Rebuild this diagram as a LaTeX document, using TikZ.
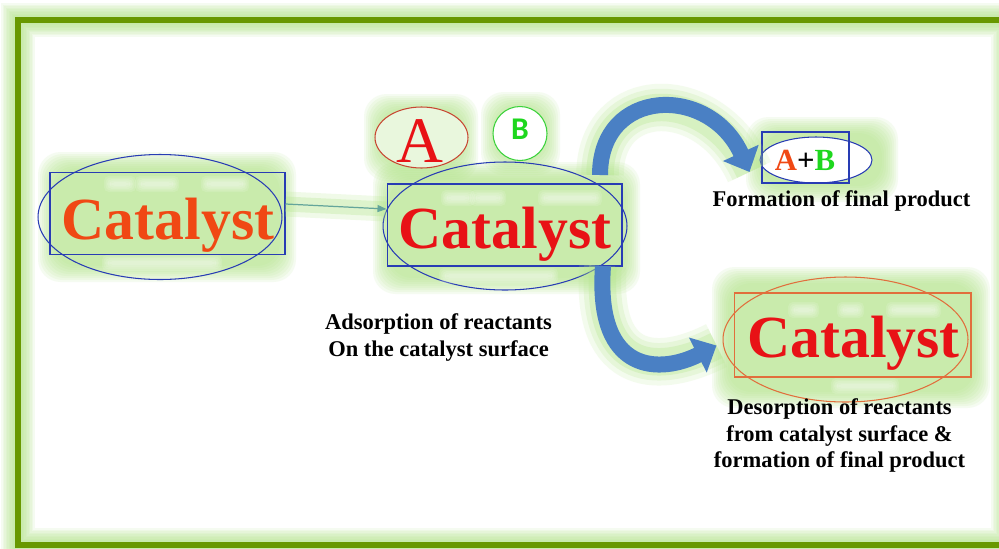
\documentclass[tikz,border=0pt]{standalone}
\usepackage{fontspec}
\setmainfont{Liberation Serif}
\newfontfamily\bsans{Carlito}
\usetikzlibrary{shapes.geometric, arrows.meta, positioning, calc}
\definecolor{glowgreen}{RGB}{180, 230, 140}
\definecolor{framegreen}{RGB}{104, 152, 0}
\definecolor{boxblue}{RGB}{40, 60, 180}
\definecolor{boxorange}{RGB}{225, 110, 60}
\definecolor{catorange}{RGB}{240, 72, 20}
\definecolor{catred}{RGB}{232, 18, 22}
\definecolor{ringred}{RGB}{200, 70, 50}
\definecolor{ringgreen}{RGB}{60, 210, 60}
\definecolor{atomgreen}{RGB}{30, 215, 30}
\definecolor{arrowblue}{RGB}{74, 128, 196}
\definecolor{linegreen}{RGB}{100, 165, 155}

% soft green halo: x1 y1 x2 y2 (px)
\newcommand{\halo}[4]{%
  \foreach \g in {0,2,...,16}
    \fill[glowgreen, opacity=0.12, rounded corners=0.45cm] (#1-\g,#2-\g) rectangle (#3+\g,#4+\g);}
% white shine bar: x1 x2 y (px)
\newcommand{\shine}[3]{%
  \foreach \g in {0,1.5,...,6}
    \fill[white, opacity=0.13, rounded corners=0.1cm] (#1-\g,#3-2-\g) rectangle (#2+\g,#3+2+\g);}

\begin{document}
\begin{tikzpicture}[
    x=0.02cm, y=-0.02cm,
    box/.style={rectangle, draw=boxblue, line width=0.6pt, inner sep=0,
                minimum width=4.7cm, minimum height=1.63cm},
    ring/.style={ellipse, draw=boxblue, line width=0.6pt, inner sep=0,
                 minimum width=4.88cm, minimum height=2.5cm},
    cattext/.style={font=\fontsize{34}{40}\selectfont\bfseries, anchor=base, inner sep=0},
    lbl/.style={font=\fontsize{12.8}{15.3}\selectfont\bfseries, align=center, inner sep=0},
    bigarrow/.style={draw=arrowblue, line width=0.32cm,
                     -{Triangle[width=0.76cm, length=0.42cm]},
                     preaction={draw=glowgreen, -, line width=0.95cm, opacity=0.15},
                     preaction={draw=glowgreen, -, line width=0.75cm, opacity=0.2},
                     preaction={draw=glowgreen, -, line width=0.55cm, opacity=0.3}},
    thinarrow/.style={draw=linegreen, line width=0.7pt,
                      -{Triangle[width=0.14cm, length=0.18cm]},
                      preaction={draw=glowgreen, -, line width=0.5cm, opacity=0.2},
                      preaction={draw=glowgreen, -, line width=0.3cm, opacity=0.3}}
]

% Page and frame
\fill[white] (0,0) rectangle (999,548);
\useasboundingbox (0,0) rectangle (999,548);
\begin{scope}
  \clip (0,0) rectangle (999,548);
  \foreach \w in {0.14,0.2,...,0.72}
    \draw[glowgreen, line width=\w cm, opacity=0.12] (18,20) rectangle (1008,545);
  \draw[framegreen, line width=0.12cm] (18,20) rectangle (1008,545);
\end{scope}

% Halos and shine
\halo{54}{168}{280}{266}
\halo{389}{178}{624}{278}
\halo{380}{110}{462}{165}
\halo{497}{108}{544}{159}
\halo{762}{133}{882}{186}
\halo{728}{283}{974}{392}

% Catalyst blocks
\node[box] (cat1box) at (167.5,213.5) {};
\node[ring] (cat1ring) at (160,217) {};
\shine{110}{130}{184}
\shine{141}{173}{184}
\shine{207}{243}{184}
\shine{108}{216}{263}
\node[cattext, text=catorange] (cat1) at (168,239) {Catalyst};

\node[box, minimum height=1.64cm] (cat2box) at (504.5,225) {};
\node[ring, minimum height=2.56cm] (cat2ring) at (505,226) {};
\shine{447}{469}{198}
\shine{476}{500}{198}
\shine{544}{596}{198}
\shine{445}{552}{276}
\node[cattext, text=catred] (cat2) at (505,248) {Catalyst};

\node[box, draw=boxorange, minimum width=4.74cm, minimum height=1.68cm] (cat3box) at (852.5,335) {};
\node[ring, draw=boxorange, minimum width=4.9cm] (cat3ring) at (845.5,339.5) {};
\shine{794}{813}{310}
\shine{843}{858}{310}
\shine{892}{935}{310}
\shine{837}{893}{386}
\node[cattext, text=catred] (cat3) at (853.5,357) {Catalyst};

% Reactants
\node[ellipse, draw=ringred, fill=white, fill opacity=0.6, line width=0.6pt, inner sep=0,
      minimum width=1.86cm, minimum height=1.22cm] (ringA) at (421.5,137.5) {};
\node[font=\fontsize{37}{40}\selectfont, text=catred, anchor=base, inner sep=0] (atomA) at (420,162) {A};
\node[circle, draw=ringgreen, fill=white, line width=0.6pt, inner sep=0,
      minimum size=1.08cm] (ringB) at (520,133.5) {};
\node[font=\bsans\bfseries\fontsize{18}{20}\selectfont, text=atomgreen, anchor=base, inner sep=0] (atomB) at (520,139) {B};

% Product
\node[ellipse, draw=boxblue, fill=white, line width=0.6pt, inner sep=0,
      minimum width=2.24cm, minimum height=0.92cm] (prodring) at (816,160) {};
\node[rectangle, draw=boxblue, line width=0.6pt, inner sep=0,
      minimum width=1.74cm, minimum height=1.02cm] (prodbox) at (805.5,157.5) {};
\node[font=\fontsize{17.5}{20}\selectfont\bfseries, anchor=base, inner sep=0] (prod) at (805,170)
  {\textcolor{catorange}{A}+\textcolor{atomgreen}{B}};

% Labels
\node[lbl, anchor=base] (formlbl) at (841.5,206) {Formation of final product};
\node[lbl, anchor=north] (adslbl) at (438.5,313) {Adsorption of reactants\\On the catalyst surface};
\node[lbl, anchor=north] (deslbl) at (839.5,398) {Desorption of reactants\\from catalyst surface \&\\formation of final product};

% Arrows
\draw[thinarrow] ([yshift=0.19cm]cat1box.east) -- ([yshift=0.32cm]cat2box.west);
\draw[bigarrow] ($(cat2ring.center)+(95,-51)$) .. controls +(0,-88) and +(-40,-88) .. ($(prodring.west)+(-10,12)$);
\draw[bigarrow] ($(cat2ring.center)+(98,40)$) .. controls +(-8,110) and +(-55,28) .. ($(cat3ring.west)+(-6,6)$);

\end{tikzpicture}
\end{document}
